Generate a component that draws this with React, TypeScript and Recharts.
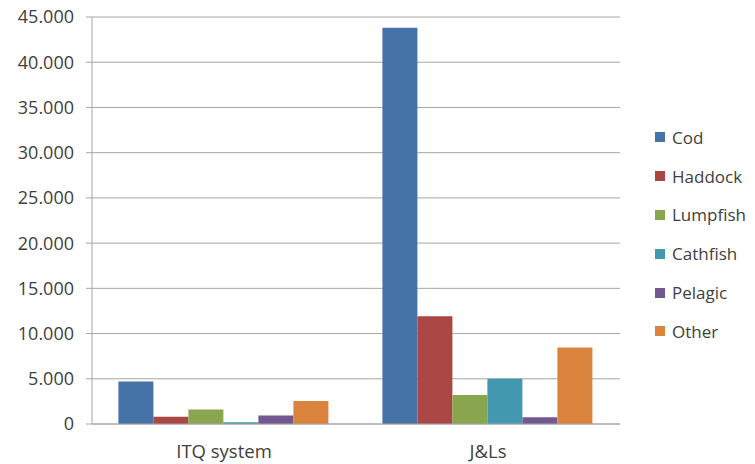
import React from "react";
import {
  BarChart,
  Bar,
  XAxis,
  YAxis,
  CartesianGrid,
} from "recharts";

const categories = ["ITQ system", "J&Ls"];
const species = ["Cod", "Haddock", "Lumpfish", "Cathfish", "Pelagic", "Other"];
const colors = ["#4572a7", "#aa4643", "#89a54e", "#4198af", "#71588f", "#db843d"];

const cod = [4700, 43800];
const haddock = [800, 11900];
const lumpfish = [1600, 3200];
const cathfish = [200, 5000];
const pelagic = [950, 750];
const other = [2550, 8450];

const yTicks = [0, 5000, 10000, 15000, 20000, 25000, 30000, 35000, 40000, 45000];

const seriesValues = [cod, haddock, lumpfish, cathfish, pelagic, other];

const data = categories.map((name, i) => {
  const row: Record<string, string | number> = { name };
  species.forEach((s, j) => {
    row[s] = seriesValues[j][i];
  });
  return row;
});

// thousands separated by a dot, e.g. 45.000
const fmt = (v: number) => String(v).replace(/\B(?=(\d{3})+(?!\d))/g, ".");

const font = "'Open Sans', 'Liberation Sans', sans-serif";

export default function App() {
  return (
    <div
      style={{
        position: "absolute",
        left: 0,
        top: 0,
        width: 755,
        height: 464,
        background: "#fff",
        fontFamily: font,
      }}
    >
      <BarChart
        width={755}
        height={464}
        data={data}
        margin={{ top: 17, right: 135, left: 0, bottom: 0 }}
        barGap={0}
        barCategoryGap="10%"
      >
        <CartesianGrid vertical={false} stroke="#a6a6a6" />
        <XAxis
          dataKey="name"
          height={40}
          tickLine={false}
          axisLine={{ stroke: "#a6a6a6" }}
          tickMargin={15}
          tick={{ fill: "#404040", fontSize: 18.5, fontFamily: font }}
        />
        <YAxis
          width={92}
          domain={[0, 45000]}
          ticks={yTicks}
          interval={0}
          tickFormatter={fmt}
          tickSize={6}
          tickMargin={12}
          tickLine={{ stroke: "#a6a6a6" }}
          axisLine={{ stroke: "#a6a6a6" }}
          tick={{ fill: "#404040", fontSize: 18, fontFamily: font }}
        />
        {species.map((s, j) => (
          <Bar
            key={s}
            dataKey={s}
            fill={colors[j]}
            isAnimationActive={false}
          />
        ))}
      </BarChart>
      <div style={{ position: "absolute", left: 655, top: 118 }}>
        {species.map((s, j) => (
          <div
            key={s}
            style={{
              display: "flex",
              alignItems: "center",
              height: 38.8,
              fontSize: 17,
              color: "#404040",
            }}
          >
            <span
              style={{
                display: "inline-block",
                width: 10,
                height: 10,
                background: colors[j],
                marginRight: 7,
              }}
            />
            {s}
          </div>
        ))}
      </div>
    </div>
  );
}
